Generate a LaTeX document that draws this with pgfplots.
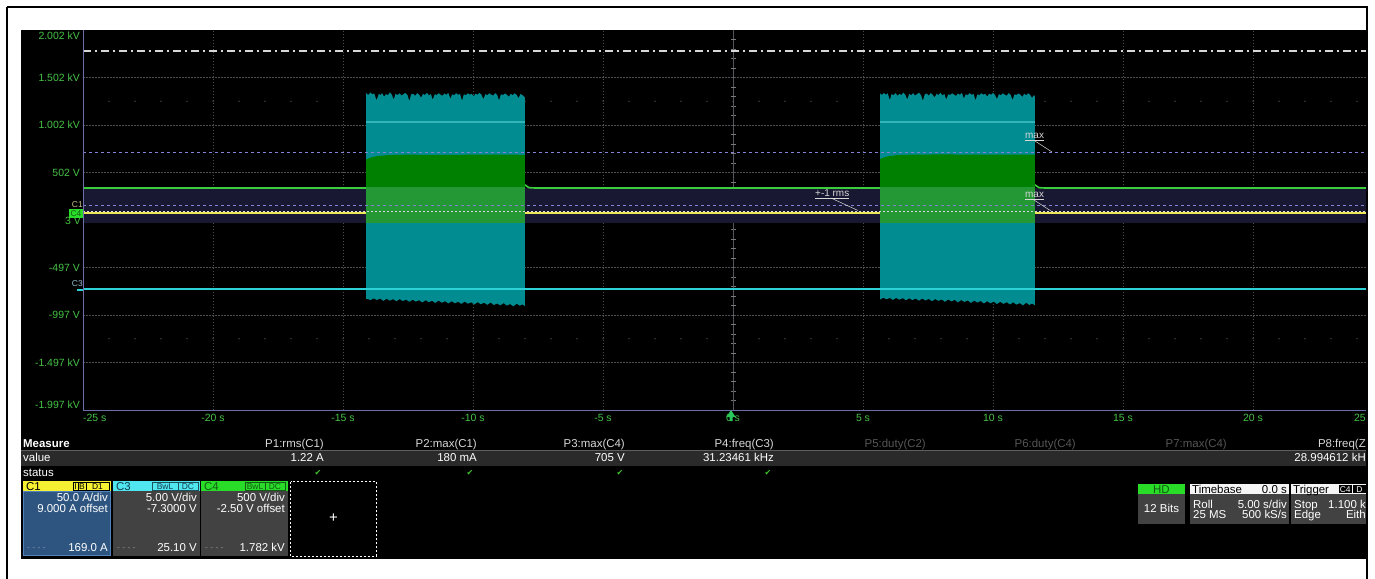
\documentclass[border=0pt]{standalone}
\usepackage{pgfplots}
\pgfplotsset{compat=1.18}
\usepackage{fontspec}
\setmainfont{Liberation Sans}
\newfontfamily\symf{DejaVu Sans}
\definecolor{scrgrid}{RGB}{78,78,78}
\definecolor{tickg}{RGB}{70,195,70}
\definecolor{axl}{RGB}{110,110,170}
\definecolor{navy}{RGB}{24,24,50}
\definecolor{c3teal}{RGB}{0,140,145}
\definecolor{c3line}{RGB}{45,210,215}
\definecolor{c3light}{RGB}{50,180,185}
\definecolor{c4dark}{RGB}{0,128,0}
\definecolor{c4band}{RGB}{35,152,52}
\definecolor{c4line}{RGB}{60,205,60}
\definecolor{c1y}{RGB}{235,230,90}
\definecolor{lav}{RGB}{130,130,215}
\definecolor{dd}{RGB}{215,215,215}
\definecolor{rowg}{RGB}{42,42,42}
\definecolor{hdrtxt}{RGB}{215,215,215}
\definecolor{dimtxt}{RGB}{85,85,85}
\definecolor{chk}{RGB}{60,200,40}
\definecolor{boxg}{RGB}{66,66,66}
\definecolor{c1body}{RGB}{45,85,128}
\definecolor{c1bord}{RGB}{80,130,190}
\definecolor{hdy}{RGB}{245,240,50}
\definecolor{hdc}{RGB}{80,230,240}
\definecolor{hdg}{RGB}{40,220,40}
\definecolor{dkg}{RGB}{20,90,20}
\definecolor{ctrl}{RGB}{88,88,98}
\definecolor{ctick}{RGB}{120,120,125}
\definecolor{cdot}{RGB}{110,110,110}
\definecolor{trg}{RGB}{40,200,90}
\definecolor{c1lab}{RGB}{200,190,140}
\definecolor{c3lab}{RGB}{150,190,210}
\definecolor{rowline}{RGB}{95,95,95}
\definecolor{dash1}{RGB}{130,150,170}
\definecolor{dash2}{RGB}{140,140,140}
\definecolor{c3txt}{RGB}{20,60,80}
\definecolor{c3box}{RGB}{30,80,90}
\definecolor{whh}{RGB}{245,245,245}
\newcommand\ft{\fontsize{11.5}{13}\selectfont}
\newcommand\fs{\fontsize{10}{12}\selectfont}
\newcommand\fx{\fontsize{8.5}{10}\selectfont}
\begin{document}
\begin{tikzpicture}
\path[use as bounding box] (0bp,0bp) rectangle (1375bp,-579bp);
\begin{scope}[x=1bp,y=-1bp]
\fill[white] (0,0) rectangle (1375,579);
\fill[black] (21,30) rectangle (1367,559);
% graticule centre lines and dots
\draw[draw=ctrl, line width=0.9bp] (83,220) -- (1367,220);
\draw[draw=ctrl, line width=0.9bp] (733,30) -- (733,410);
\foreach \k in {1,...,49}{
  \draw[draw=ctick, line width=0.7bp] ({83+26*\k},217.5) -- ({83+26*\k},222.5);
  \fill[fill=cdot] ({83+26*\k},101.25) circle (0.7);
  \fill[fill=cdot] ({83+26*\k},338.75) circle (0.7);
}
\foreach \k in {1,...,39}{
  \draw[draw=ctick, line width=0.7bp] (730.5,{30+9.5*\k}) -- (735.5,{30+9.5*\k});
}
\end{scope}
\begin{axis}[at={(83bp,-410bp)}, anchor=south west, width=1284bp, height=380bp, scale only axis,
  xmin=-25, xmax=24.3846, ymin=-1997.5, ymax=2002.5,
  axis line style={draw=none}, tick style={draw=none},
  grid=major, major grid style={draw=scrgrid, line width=0.6bp, dash pattern=on 1.5bp off 1.5bp},
  xtick={-20,-15,-10,-5,0,5,10,15,20},
  xticklabels={-20 s,-15 s,-10 s,-5 s,0 s,5 s,10 s,15 s,20 s},
  ytick={-1497.5,-997.5,-497.5,502.5,1002.5,1502.5},
  yticklabels={-1.497 kV,-997 V,-497 V,502 V,1.002 kV,1.502 kV},
  ticklabel style={font=\fontsize{10.5}{12}\selectfont, text=tickg},
  yticklabel style={anchor=east, inner sep=0pt, xshift=-3bp},
  xticklabel style={anchor=north, inner sep=0pt, yshift=-4bp},
  clip=true]
% +-1 rms band
\addplot[fill=navy, draw=none] coordinates {(-25,339) (24.3846,339) (24.3846,-29) (-25,-29)} -- cycle;
% C1 trace
\addplot[draw=c1y, line width=2bp] coordinates {(-25,75) (24.3846,75)};
% C4 baseline
\addplot[draw=c4line, line width=1.6bp] coordinates {(-25,339) (-8.2,339) (-8.0,371) (-7.85,343) (-7.6,339) (11.4,339) (11.615,371) (11.77,343) (12.0,339) (24.3846,339)};
% C3 burst envelopes
\addplot[fill=c3teal, draw=none] coordinates {
(-14.115,-830) (-14.115,1340) (-14.03,1318) (-13.95,1345) (-13.88,1325) (-13.80,1335) (-13.71,1262) (-13.62,1330) (-13.55,1318) (-13.50,1338) (-13.42,1300) (-13.35,1328) (-13.27,1316) (-13.20,1345) (-13.12,1322) (-13.05,1270) (-12.98,1330) (-12.90,1318) (-12.82,1336) (-12.75,1312) (-12.67,1328) (-12.60,1340) (-12.52,1318) (-12.45,1255) (-12.38,1324) (-12.30,1332) (-12.22,1310) (-12.15,1338) (-12.07,1322) (-12.00,1290) (-11.92,1330) (-11.85,1318) (-11.77,1342) (-11.70,1314) (-11.62,1328) (-11.55,1268) (-11.47,1326) (-11.40,1318) (-11.32,1336) (-11.25,1322) (-11.17,1310) (-11.10,1334) (-11.02,1320) (-10.95,1342) (-10.87,1280) (-10.80,1326) (-10.72,1316) (-10.65,1338) (-10.57,1320) (-10.50,1330) (-10.42,1258) (-10.35,1326) (-10.27,1316) (-10.20,1336) (-10.12,1322) (-10.05,1330) (-9.97,1305) (-9.90,1332) (-9.82,1320) (-9.75,1342) (-9.67,1318) (-9.60,1275) (-9.52,1328) (-9.45,1316) (-9.37,1336) (-9.30,1322) (-9.22,1312) (-9.15,1338) (-9.07,1320) (-9.00,1262) (-8.92,1326) (-8.85,1318) (-8.77,1334) (-8.70,1322) (-8.62,1300) (-8.55,1330) (-8.47,1316) (-8.40,1336) (-8.32,1320) (-8.25,1285) (-8.17,1328) (-8.10,1318) (-8.03,1300) (-8.00,1290)
(-8.00,-905) (-8.10,-885) (-8.20,-900) (-8.32,-878) (-8.45,-906) (-8.57,-882) (-8.70,-898) (-8.82,-872) (-8.95,-896) (-9.07,-876) (-9.20,-892) (-9.32,-866) (-9.45,-890) (-9.57,-868) (-9.70,-884) (-9.82,-862) (-9.95,-886) (-10.07,-864) (-10.20,-878) (-10.32,-856) (-10.45,-880) (-10.57,-858) (-10.70,-874) (-10.82,-852) (-10.95,-876) (-11.07,-852) (-11.20,-868) (-11.32,-846) (-11.45,-870) (-11.57,-848) (-11.70,-862) (-11.82,-842) (-11.95,-864) (-12.07,-842) (-12.20,-856) (-12.32,-836) (-12.45,-858) (-12.57,-836) (-12.70,-850) (-12.82,-830) (-12.95,-852) (-13.07,-830) (-13.20,-846) (-13.32,-826) (-13.45,-848) (-13.57,-824) (-13.70,-840) (-13.82,-822) (-13.95,-842) (-14.05,-826)} -- cycle;
\addplot[fill=c3teal, draw=none] coordinates {
(5.654,-835) (5.654,1335) (5.73,1318) (5.80,1340) (5.88,1322) (5.95,1336) (6.03,1265) (6.10,1328) (6.18,1316) (6.25,1338) (6.33,1310) (6.40,1330) (6.48,1318) (6.55,1344) (6.63,1320) (6.70,1272) (6.78,1330) (6.85,1316) (6.93,1338) (7.00,1312) (7.08,1328) (7.15,1342) (7.23,1318) (7.30,1258) (7.38,1326) (7.45,1334) (7.53,1310) (7.60,1338) (7.68,1322) (7.75,1292) (7.83,1330) (7.90,1318) (7.98,1342) (8.05,1314) (8.13,1328) (8.20,1270) (8.28,1326) (8.35,1318) (8.43,1336) (8.50,1322) (8.58,1308) (8.65,1334) (8.73,1320) (8.80,1342) (8.88,1282) (8.95,1326) (9.03,1316) (9.10,1338) (9.18,1320) (9.25,1330) (9.33,1262) (9.40,1326) (9.48,1316) (9.55,1336) (9.63,1322) (9.70,1330) (9.78,1302) (9.85,1332) (9.93,1320) (10.00,1342) (10.08,1318) (10.15,1276) (10.23,1328) (10.30,1316) (10.38,1336) (10.45,1322) (10.53,1310) (10.60,1338) (10.68,1320) (10.75,1265) (10.83,1326) (10.90,1318) (10.98,1334) (11.05,1322) (11.13,1298) (11.20,1330) (11.28,1316) (11.35,1336) (11.43,1320) (11.50,1288) (11.58,1318) (11.615,1300)
(11.615,-895) (11.50,-876) (11.40,-892) (11.28,-868) (11.15,-896) (11.03,-872) (10.90,-888) (10.78,-864) (10.65,-886) (10.53,-862) (10.40,-880) (10.28,-858) (10.15,-882) (10.03,-856) (9.90,-874) (9.78,-852) (9.65,-876) (9.53,-850) (9.40,-866) (9.28,-846) (9.15,-870) (9.03,-844) (8.90,-860) (8.78,-840) (8.65,-864) (8.53,-838) (8.40,-854) (8.28,-834) (8.15,-858) (8.03,-834) (7.90,-848) (7.78,-830) (7.65,-852) (7.53,-828) (7.40,-844) (7.28,-824) (7.15,-846) (7.03,-824) (6.90,-840) (6.78,-822) (6.65,-842) (6.53,-820) (6.40,-836) (6.28,-818) (6.15,-838) (6.03,-818) (5.90,-832) (5.78,-816)} -- cycle;
% C4 burst envelopes
\addplot[fill=c4dark, draw=none] coordinates {(-14.115,-29) (-14.115,640) (-13.95,658) (-13.7,675) (-13.3,685) (-12.6,690) (-11,688) (-9.5,691) (-8.0,689) (-8.0,-29)} -- cycle;
\addplot[fill=c4dark, draw=none] coordinates {(5.654,-29) (5.654,645) (5.8,660) (6.0,675) (6.3,685) (6.8,690) (8,693) (9.5,690) (11.0,692) (11.615,690) (11.615,-29)} -- cycle;
% band seen through the bursts
\addplot[fill=c4band, draw=none] coordinates {(-14.115,345) (-8.0,345) (-8.0,-29) (-14.115,-29)} -- cycle;
\addplot[fill=c4band, draw=none] coordinates {(5.654,345) (11.615,345) (11.615,-29) (5.654,-29)} -- cycle;
% light line inside bursts
\addplot[draw=c3light, line width=1.3bp] coordinates {(-14.115,1034) (-8.0,1034)};
\addplot[draw=c3light, line width=1.3bp] coordinates {(5.654,1034) (11.615,1034)};
% C3 baseline
\addplot[draw=c3line, line width=2bp] coordinates {(-25,-729) (24.3846,-729)};
% cursor lines
\addplot[draw=lav, line width=0.8bp, dash pattern=on 3bp off 3bp] coordinates {(-25,718) (24.3846,718)};
\addplot[draw=lav, line width=0.8bp, dash pattern=on 3bp off 3bp] coordinates {(-25,160) (24.3846,160)};
\addplot[draw=dd, line width=0.8bp, dash pattern=on 2bp off 2bp] coordinates {(-25,92) (24.3846,92)};
% trigger level
\addplot[draw=dd, line width=1.8bp, dash pattern=on 8bp off 3.5bp on 2.5bp off 4bp] coordinates {(-25,1782) (24.3846,1782)};
\end{axis}
\begin{scope}[x=1bp,y=-1bp]
% axis lines
\draw[draw=axl, line width=0.8bp] (83,30) -- (83,410) -- (1367,410);
% edge tick labels
\node[anchor=east, inner sep=0pt, text=tickg, font=\fontsize{10.5}{12}\selectfont] at (80,35.5) {2.002 kV};
\node[anchor=east, inner sep=0pt, text=tickg, font=\fontsize{10.5}{12}\selectfont] at (80,404.5) {-1.997 kV};
\node[anchor=west, inner sep=0pt, text=tickg, font=\fontsize{10.5}{12}\selectfont] at (83,418) {-25 s};
\node[anchor=east, inner sep=0pt, text=tickg, font=\fontsize{10.5}{12}\selectfont] at (1366,418) {25};
\node[anchor=east, inner sep=0pt, text=tickg, font=\fontsize{10.5}{12}\selectfont] at (81,220.5) {3 V};
% trigger marker
\fill[fill=trg] (731,410) -- (735.5,417) -- (732.5,417) -- (732.5,421) -- (729.5,421) -- (729.5,417) -- (726.5,417) -- cycle;
% channel markers
\node[anchor=east, inner sep=0pt, text=c1lab, font=\fx] at (83,205) {C1};
\fill[fill=hdg] (69,209) rectangle (83,217.5);
\node[inner sep=0pt, text=dkg, font=\fx] at (76,213.3) {C4};
\node[anchor=east, inner sep=0pt, text=c3lab, font=\fx] at (83,284) {C3};
\draw[draw=c3line, line width=2bp] (77,289.5) -- (83,289.5);
% annotations
\node[anchor=base west, inner sep=0pt, text=dd, font=\fs] at (815,196.5) {\underline{+-1 rms}};
\draw[draw=dd, line width=0.5bp] (832,198.5) -- (858,210.5);
\node[anchor=base west, inner sep=0pt, text=dd, font=\fs] at (1025,138.5) {\underline{max}};
\draw[draw=dd, line width=0.5bp] (1035,141) -- (1052,152);
\node[anchor=base west, inner sep=0pt, text=dd, font=\fs] at (1025,197.5) {\underline{max}};
\draw[draw=dd, line width=0.5bp] (1034,200) -- (1051,211);
% measure table
\fill[fill=rowg] (21,450) rectangle (1367,465.5);
\draw[draw=rowline, line width=0.8bp] (21,450) -- (1367,450);
\node[anchor=base west, inner sep=0pt, text=white, font=\ft\bfseries] at (23,447.5) {Measure};
\node[anchor=base west, inner sep=0pt, text=white, font=\ft] at (23,461.5) {value};
\node[anchor=base west, inner sep=0pt, text=white, font=\ft] at (23,476) {status};
\node[anchor=base east, inner sep=0pt, text=hdrtxt, font=\ft] at (324,447.5) {P1:rms(C1)};
\node[anchor=base east, inner sep=0pt, text=hdrtxt, font=\ft] at (477,447.5) {P2:max(C1)};
\node[anchor=base east, inner sep=0pt, text=hdrtxt, font=\ft] at (625,447.5) {P3:max(C4)};
\node[anchor=base east, inner sep=0pt, text=hdrtxt, font=\ft] at (774,447.5) {P4:freq(C3)};
\node[anchor=base east, inner sep=0pt, text=dimtxt, font=\ft] at (926,447.5) {P5:duty(C2)};
\node[anchor=base east, inner sep=0pt, text=dimtxt, font=\ft] at (1076,447.5) {P6:duty(C4)};
\node[anchor=base east, inner sep=0pt, text=dimtxt, font=\ft] at (1227,447.5) {P7:max(C4)};
\node[anchor=base east, inner sep=0pt, text=hdrtxt, font=\ft] at (1366,447.5) {P8:freq(Z};
\node[anchor=base east, inner sep=0pt, text=white, font=\ft] at (324,461.5) {1.22 A};
\node[anchor=base east, inner sep=0pt, text=white, font=\ft] at (477,461.5) {180 mA};
\node[anchor=base east, inner sep=0pt, text=white, font=\ft] at (625,461.5) {705 V};
\node[anchor=base east, inner sep=0pt, text=white, font=\ft] at (774,461.5) {31.23461 kHz};
\node[anchor=base east, inner sep=0pt, text=white, font=\ft] at (1366,461.5) {28.994612 kH};
\foreach \cx in {318,470,620,768}{\node[inner sep=0pt, text=chk, font=\symf\fontsize{8}{9}\selectfont] at (\cx,472.5) {✔};}
% channel boxes
\fill[fill=hdy] (23,481) rectangle (111,491);
\fill[fill=c1body] (23,491) rectangle (111,556);
\draw[draw=c1bord, line width=1bp] (23.5,491) rectangle (110.5,555.5);
\node[anchor=base west, inner sep=0pt, text=black, font=\ft] at (26,490) {C1};
\draw[draw=black, line width=0.7bp] (73,482.5) rectangle (78,490) (78,482.5) rectangle (86,490) (86,482.5) rectangle (109.5,490);
\node[inner sep=0pt, font=\fx] at (75.5,486.3) {I};
\node[inner sep=0pt, font=\fx] at (82,486.3) {B};
\node[inner sep=0pt, font=\fx] at (97.5,486.3) {D1};
\node[anchor=base east, inner sep=0pt, text=white, font=\ft] at (108,501.5) {50.0 A/div};
\node[anchor=base east, inner sep=0pt, text=white, font=\ft] at (108,512) {9.000 A offset};
\node[anchor=base east, inner sep=0pt, text=white, font=\ft] at (108,551.5) {169.0 A};
\node[anchor=base west, inner sep=0pt, text=dash1, font=\fx] at (27,550) {- - - -};
\fill[fill=hdc] (113,481) rectangle (200,491);
\fill[fill=boxg] (113,491) rectangle (200,556);
\node[anchor=base west, inner sep=0pt, text=c3txt, font=\ft] at (116,490) {C3};
\draw[draw=c3box, line width=0.7bp] (152,482.5) rectangle (178,490) (178,482.5) rectangle (198,490);
\node[inner sep=0pt, text=c3txt, font=\fx] at (165,486.3) {BwL};
\node[inner sep=0pt, text=c3txt, font=\fx] at (188,486.3) {DC};
\node[anchor=base east, inner sep=0pt, text=white, font=\ft] at (197,501.5) {5.00 V/div};
\node[anchor=base east, inner sep=0pt, text=white, font=\ft] at (197,512) {-7.3000 V};
\node[anchor=base east, inner sep=0pt, text=white, font=\ft] at (197,551.5) {25.10 V};
\node[anchor=base west, inner sep=0pt, text=dash2, font=\fx] at (117,550) {- - - -};
\fill[fill=hdg] (201,481) rectangle (288,491);
\fill[fill=boxg] (201,491) rectangle (288,556);
\node[anchor=base west, inner sep=0pt, text=dkg, font=\ft] at (204,490) {C4};
\draw[draw=dkg, line width=0.7bp] (245,482.5) rectangle (265,490) (265,482.5) rectangle (285,490);
\node[inner sep=0pt, text=dkg, font=\fx] at (255,486.3) {BwL};
\node[inner sep=0pt, text=dkg, font=\fx] at (275,486.3) {DC};
\node[anchor=base east, inner sep=0pt, text=white, font=\ft] at (285,501.5) {500 V/div};
\node[anchor=base east, inner sep=0pt, text=white, font=\ft] at (285,512) {-2.50 V offset};
\node[anchor=base east, inner sep=0pt, text=white, font=\ft] at (285,551.5) {1.782 kV};
\node[anchor=base west, inner sep=0pt, text=dash2, font=\fx] at (205,550) {- - - -};
\draw[draw=white, line width=0.7bp, dash pattern=on 2bp off 2bp] (290.5,481.5) rectangle (376.5,556);
\node[inner sep=0pt, text=white, font=\fontsize{15}{16}\selectfont] at (333.5,518.5) {+};
% right status boxes
\fill[fill=hdg] (1138,484) rectangle (1185,494);
\fill[fill=boxg] (1138,494) rectangle (1185,524);
\node[inner sep=0pt, text=dkg, font=\ft] at (1161.5,489.3) {HD};
\node[inner sep=0pt, text=white, font=\ft] at (1161.5,508.5) {12 Bits};
\fill[fill=whh] (1190,484) rectangle (1289,494);
\fill[fill=boxg] (1190,494) rectangle (1289,524);
\node[anchor=base west, inner sep=0pt, text=black, font=\ft] at (1192,493) {Timebase};
\node[anchor=base east, inner sep=0pt, text=black, font=\ft] at (1287,493) {0.0 s};
\node[anchor=base west, inner sep=0pt, text=white, font=\ft] at (1193,508) {Roll};
\node[anchor=base east, inner sep=0pt, text=white, font=\ft] at (1287,508) {5.00 s/div};
\node[anchor=base west, inner sep=0pt, text=white, font=\ft] at (1193,518.5) {25 MS};
\node[anchor=base east, inner sep=0pt, text=white, font=\ft] at (1287,518.5) {500 kS/s};
\fill[fill=whh] (1291,484) rectangle (1367,494);
\fill[fill=boxg] (1291,494) rectangle (1367,524);
\node[anchor=base west, inner sep=0pt, text=black, font=\ft] at (1293,493) {Trigger};
\fill[fill=black] (1339,485) rectangle (1351.5,493);
\node[inner sep=0pt, text=white, font=\fx] at (1345.2,489.2) {C4};
\fill[fill=black] (1353,485) rectangle (1366,493);
\node[inner sep=0pt, text=white, font=\fx] at (1359.5,489.2) {D};
\node[anchor=base west, inner sep=0pt, text=white, font=\ft] at (1294,508) {Stop};
\node[anchor=base east, inner sep=0pt, text=white, font=\ft] at (1366,508) {1.100 k};
\node[anchor=base west, inner sep=0pt, text=white, font=\ft] at (1294,518.5) {Edge};
\node[anchor=base east, inner sep=0pt, text=white, font=\ft] at (1366,518.5) {Eith};
% outer frame
\fill[fill=white] (1367.5,0) rectangle (1376,580);
\draw[draw=black, line width=1.6bp] (7,7) -- (1367,7) -- (1367,585);
\draw[draw=black, line width=1.6bp] (7,7) -- (7,585);
\end{scope}
\end{tikzpicture}
\end{document}
